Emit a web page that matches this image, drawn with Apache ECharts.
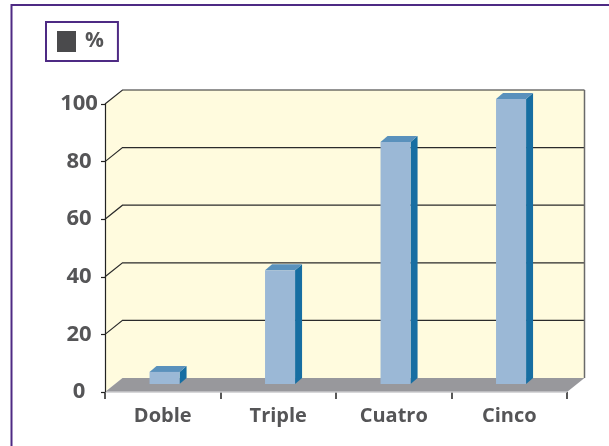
<!DOCTYPE html>
<html><head><meta charset="utf-8">
<script src="https://cdn.jsdelivr.net/npm/echarts@6/dist/echarts.min.js"></script>
<style>html,body{margin:0;padding:0;background:#fff}#c{width:609px;height:446px}</style>
</head><body><div id="c"></div>
<script>
// ---- data ----
const categories = ['Doble', 'Triple', 'Cuatro', 'Cinco'];
const values = [4.2, 39.5, 84, 99];
const seriesName = '%';
const yTicks = [0, 20, 40, 60, 80, 100];

// ---- style constants ----
const FONT = '"Open Sans", "Noto Sans", sans-serif';
const DEPTH = [17.5, -14];   // wall depth offset
const BAR_OFF = [1.8, -8];   // bar plane offset from front plane
const BAR_RATIO = 0.26;      // bar face width / band width
const BAR_D = [7, -6];       // bar extrusion

const chart = echarts.init(document.getElementById('c'), null, {renderer: 'canvas'});

function wallRender(params, api) {
  const cs = params.coordSys;
  const x0 = cs.x, x1 = cs.x + cs.width;
  const y0 = api.coord([0, yTicks[0]])[1];
  const yTop = api.coord([0, yTicks[yTicks.length - 1]])[1];
  const dx = DEPTH[0], dy = DEPTH[1];
  const ch = [];
  ch.push({type: 'polygon', silent: true,
    shape: {points: [[x0, y0], [x0, yTop], [x0 + dx, yTop + dy], [x1 + dx, yTop + dy], [x1 + dx, y0 + dy], [x0 + dx, y0 + dy]]},
    style: {fill: '#fffbde'}});
  yTicks.forEach(function (t) {
    if (t === yTicks[0]) return;
    const y = api.coord([0, t])[1];
    ch.push({type: 'polyline', silent: true,
      shape: {points: [[x0, y], [x0 + dx, y + dy], [x1 + dx, y + dy]]},
      style: {stroke: '#2b2b2b', lineWidth: 1.2, fill: null}});
  });
  ch.push({type: 'line', silent: true,
    shape: {x1: x1 + dx, y1: yTop + dy, x2: x1 + dx, y2: y0 + dy},
    style: {stroke: '#6a6a6a', lineWidth: 1.5}});
  ch.push({type: 'polygon', silent: true,
    shape: {points: [[x0, y0], [x0 + dx, y0 + dy], [x1 + dx, y0 + dy], [x1, y0]]},
    style: {fill: '#98989c'}});
  ch.push({type: 'line', silent: true,
    shape: {x1: x0, y1: y0, x2: x1, y2: y0},
    style: {stroke: '#cacacc', lineWidth: 1.5}});
  return {type: 'group', children: ch};
}

function barRender(params, api) {
  const i = api.value(0), v = api.value(1);
  const base = api.coord([i, 0]), top = api.coord([i, v]);
  const w = api.size([1, 0])[0] * BAR_RATIO;
  const cx = base[0] + BAR_OFF[0];
  const yb = base[1] + BAR_OFF[1], yt = top[1] + BAR_OFF[1];
  const xl = cx - w / 2, xr = cx + w / 2;
  const ddx = BAR_D[0], ddy = BAR_D[1];
  return {type: 'group', children: [
    {type: 'polygon', shape: {points: [[xr, yb], [xr, yt], [xr + ddx, yt + ddy], [xr + ddx, yb + ddy]]}, style: {fill: '#176ea2'}},
    {type: 'polygon', shape: {points: [[xl, yt], [xl + ddx, yt + ddy], [xr + ddx, yt + ddy], [xr, yt]]}, style: {fill: '#5a91bc'}},
    {type: 'rect', shape: {x: xl, y: yt, width: w, height: yb - yt}, style: {fill: '#9bb8d6'}}
  ]};
}

chart.setOption({
  animation: false,
  backgroundColor: '#ffffff',
  graphic: [{
    type: 'polyline', silent: true,
    shape: {points: [[11.5, 446], [11.5, 5], [609, 5]]},
    style: {stroke: '#4e2a84', lineWidth: 2, fill: null}
  }],
  legend: {
    left: 46, top: 22,
    data: [{name: seriesName, itemStyle: {color: '#4a4a4c'}}],
    icon: 'rect', itemWidth: 19, itemHeight: 21,
    borderColor: '#4e2a84', borderWidth: 2,
    padding: [9, 14, 9, 11],
    textStyle: {fontSize: 21, fontWeight: 'bold', color: '#555557', fontFamily: FONT, padding: [0, 0, 0, 4]}
  },
  grid: {left: 105, right: 42, top: 104, bottom: 54},
  xAxis: {
    type: 'category', data: categories, offset: 2,
    axisLine: {show: false},
    axisTick: {show: true, length: 7, lineStyle: {color: '#222', width: 1.5}},
    axisLabel: {margin: 12, fontSize: 20, fontWeight: 'bold', color: '#555557', fontFamily: FONT},
    splitLine: {show: false}
  },
  yAxis: {
    type: 'value', min: 0, max: 100, interval: 20, z: 5,
    axisLine: {show: true, lineStyle: {color: '#222', width: 1.2}},
    axisTick: {show: true, length: 4, lineStyle: {color: '#222', width: 1.2}},
    axisLabel: {align: 'center', margin: 26, fontSize: 22, fontWeight: 'bold', color: '#555557', fontFamily: FONT},
    splitLine: {show: false}
  },
  series: [
    {type: 'custom', name: 'wall', z: 1, silent: true, renderItem: wallRender, data: [[0, 0]], legendHoverLink: false},
    {type: 'custom', name: seriesName, z: 3, renderItem: barRender,
      itemStyle: {color: '#9bb8d6'},
      data: values.map(function (v, i) { return [i, v]; })}
  ]
});
</script>
</body></html>
